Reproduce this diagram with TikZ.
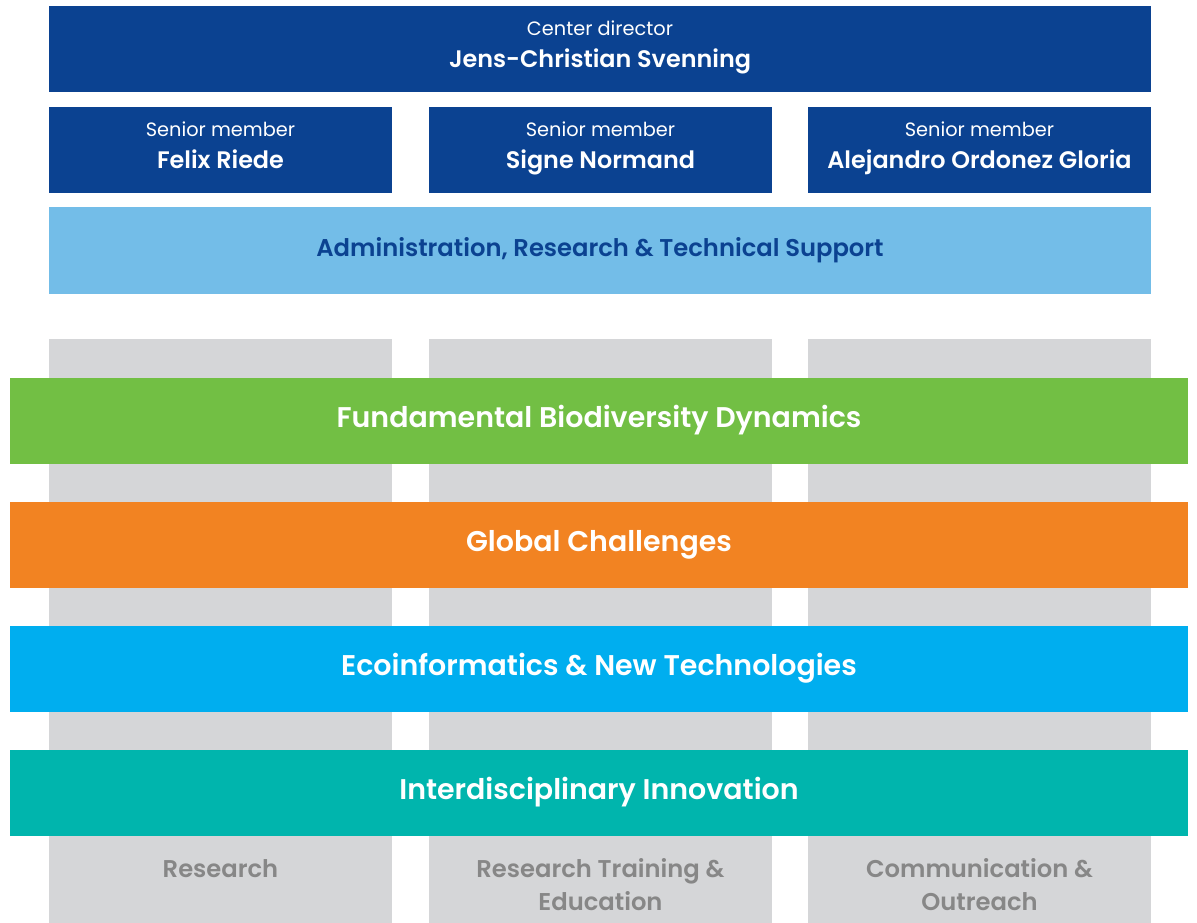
\documentclass[tikz,border=0pt]{standalone}
\usepackage{fontspec}
\setmainfont{Poppins}[BoldFont={Poppins SemiBold}]
\usepackage{xcolor}
\definecolor{audarkblue}{HTML}{0B4291}
\definecolor{aulightblue}{HTML}{73BDE8}
\definecolor{augrey}{HTML}{D5D6D8}
\definecolor{augreytext}{HTML}{878787}
\definecolor{augreen}{HTML}{72BF44}
\definecolor{auorange}{HTML}{F28322}
\definecolor{aucyan}{HTML}{00AEEF}
\definecolor{auteal}{HTML}{00B5AD}

\begin{document}
\begin{tikzpicture}[
    x=0.02cm, y=-0.02cm,
    boxnode/.style={rectangle, inner sep=0pt, text=white},
    leadbox/.style={boxnode, align=center, fill=audarkblue, minimum height=1.72cm, font=\fontsize{11}{18}\selectfont,
        execute at begin node=\rule{0pt}{15pt}, execute at end node=\strut},
    column/.style={rectangle, inner sep=0pt, fill=augrey, minimum width=6.86cm, minimum height=11.68cm},
    band/.style={boxnode, minimum width=23.56cm, minimum height=1.72cm, text height=0.7em, text depth=0pt,
        font=\fontsize{16.2}{20}\selectfont\bfseries},
    pillar/.style={align=center, text=augreytext, font=\fontsize{13.8}{18.8}\selectfont\bfseries}
]
    \useasboundingbox (0,0) rectangle (1197,923);

    % leadership
    \node[leadbox, minimum width=22.04cm] (director) at (600,49) {
        Center director\\
        {\fontsize{13.6}{18}\selectfont\bfseries Jens-Christian Svenning}
    };
    \node[leadbox, minimum width=6.86cm] (riede) at (220.5,150) {
        Senior member\\
        {\fontsize{13.6}{18}\selectfont\bfseries Felix Riede}
    };
    \node[leadbox, minimum width=6.86cm] (normand) at (600.5,150) {
        Senior member\\
        {\fontsize{13.6}{18}\selectfont\bfseries Signe Normand}
    };
    \node[leadbox, minimum width=6.86cm] (ordonez) at (979.5,150) {
        Senior member\\
        {\fontsize{13.6}{18}\selectfont\bfseries Alejandro Ordonez Gloria}
    };
    \node[boxnode, fill=aulightblue, minimum width=22.04cm, minimum height=1.74cm,
          text height=0.7em, text depth=0pt,
          text=audarkblue, font=\fontsize{13.8}{18}\selectfont\bfseries] (admin) at (600,250.5)
        {Administration, Research \& Technical Support};

    % pillars
    \node[column] (research) at (220.5,631) {};
    \node[column] (training) at (600.5,631) {};
    \node[column] (outreach) at (979.5,631) {};

    % themes
    \node[band, fill=augreen] (fundamental) at (599,421) {Fundamental Biodiversity Dynamics};
    \node[band, fill=auorange] (global) at (599,545) {Global Challenges};
    \node[band, fill=aucyan] (ecoinf) at (599,669) {Ecoinformatics \& New Technologies};
    \node[band, fill=auteal] (interdisc) at (599,793) {Interdisciplinary Innovation};

    % pillar labels
    \node[pillar] at (220.5,869) {Research};
    \node[pillar] at (600.5,885) {Research Training \&\\Education};
    \node[pillar] at (979.5,885) {Communication \&\\Outreach};
\end{tikzpicture}
\end{document}
